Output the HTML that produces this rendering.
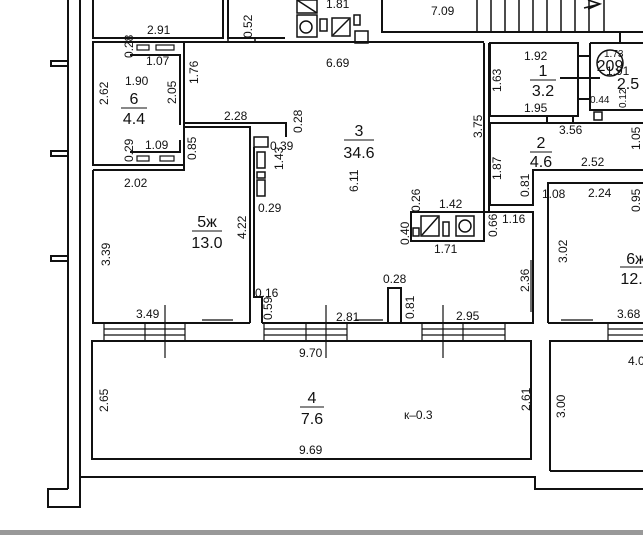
<!DOCTYPE html>
<html><head><meta charset="utf-8"><style>
html,body{margin:0;padding:0;background:#fff;}
svg{display:block;}
text{font-family:"Liberation Sans",sans-serif;fill:#111;}
.d{font-size:12px;}
.r{font-size:16px;}
</style></head><body>
<svg width="643" height="535" viewBox="0 0 643 535" xmlns="http://www.w3.org/2000/svg">
<g fill="none" stroke="#111" stroke-width="2">
<line x1="68" y1="0" x2="68" y2="489"/>
<line x1="80" y1="0" x2="80" y2="477"/>
<path d="M80 477 H535 V489 H643"/>
<path d="M68 489 H48 V507 H80 V477"/>
<path d="M68 61 H51 V66 H68"/>
<path d="M68 151 H51 V156 H68"/>
<path d="M68 256 H51 V261 H68"/>
<path d="M93 0 V38 H223 V0"/>
<path d="M228 0 V38 H285"/>
<path d="M382 0 V32 H643"/>
<line x1="620" y1="32" x2="620" y2="43"/>
<g stroke-width="1.5">
<line x1="477" y1="0" x2="477" y2="32"/><line x1="491" y1="0" x2="491" y2="32"/><line x1="505" y1="0" x2="505" y2="32"/><line x1="519" y1="0" x2="519" y2="32"/><line x1="533" y1="0" x2="533" y2="32"/><line x1="547" y1="0" x2="547" y2="32"/><line x1="561" y1="0" x2="561" y2="32"/><line x1="575" y1="0" x2="575" y2="32"/><line x1="589" y1="0" x2="589" y2="32"/><line x1="604" y1="0" x2="604" y2="32"/>
<path d="M584 8 L600 4 M588 0 L600 4 L588 9"/>
</g>
<g stroke-width="1.5">
<rect x="297" y="0" width="20" height="13"/><line x1="297" y1="0" x2="317" y2="13"/>
<rect x="297" y="15" width="20" height="22"/><circle cx="306" cy="27" r="6"/>
<rect x="320" y="19" width="7" height="12"/>
<rect x="332" y="18" width="18" height="18"/><line x1="333" y1="35" x2="349" y2="19"/>
<rect x="354" y="15" width="6" height="10"/>
<rect x="355" y="31" width="13" height="12"/>
<line x1="228" y1="0" x2="228" y2="42"/><line x1="255" y1="38" x2="255" y2="42"/>
</g>
<path d="M184 42 H484"/>
<rect x="93" y="42" width="91" height="123"/>
<path d="M130 55 H180 V125"/>
<path d="M130 152 H180 V140"/>
<g stroke-width="1.2">
<rect x="137" y="45" width="12" height="5"/><rect x="156" y="45" width="18" height="5"/>
<rect x="137" y="156" width="12" height="5"/><rect x="160" y="156" width="14" height="5"/>
</g>
<path d="M184 123 H286 V137"/>
<path d="M184 127 H250 V323"/>
<path d="M93 170 H184 V165"/>
<path d="M93 170 V323 H250"/>
<g stroke-width="1.5">
<rect x="254" y="137" width="14" height="10"/>
<rect x="257" y="152" width="8" height="16"/><rect x="257" y="172" width="8" height="6"/><rect x="257" y="180" width="8" height="16"/>
</g>
<path d="M254 147 V297 H262 V323"/>
<path d="M262 323 H533 V212 H484 V43"/>
<line x1="489" y1="43" x2="489" y2="212"/>
<rect x="388" y="288" width="13" height="35"/>
<rect x="411" y="212" width="73" height="29"/>
<g stroke-width="1.5">
<rect x="421" y="216" width="18" height="20"/><line x1="422" y1="235" x2="438" y2="217"/>
<rect x="443" y="222" width="6" height="14"/>
<rect x="456" y="216" width="18" height="20"/><circle cx="465" cy="226" r="6"/>
<rect x="413" y="228" width="6" height="8"/>
</g>
<rect x="490" y="43" width="88" height="73"/>
<line x1="578" y1="56" x2="590" y2="56"/><line x1="578" y1="99" x2="590" y2="99"/>
<line x1="560" y1="78" x2="600" y2="78"/>
<path d="M590 43 H643 M590 43 V110 H643"/>
<circle cx="610" cy="63" r="13" stroke-width="1.5"/>
<rect x="594" y="112" width="8" height="8" stroke-width="1.5"/>
<path d="M490 123 H643"/>
<path d="M490 123 V205 H533 V170 H643"/>
<line x1="547" y1="116" x2="547" y2="123"/><line x1="573" y1="116" x2="573" y2="123"/>
<path d="M548 323 V183 H643"/>
<path d="M548 323 H643"/>
<rect x="92" y="341" width="439" height="118"/>
<path d="M550 471 V341 H643 M550 471 H643"/>
<g stroke-width="1.2">
<rect x="104" y="323" width="81" height="18"/><line x1="104" y1="329" x2="185" y2="329"/><line x1="104" y1="335" x2="185" y2="335"/><line x1="145" y1="323" x2="145" y2="341"/>
<rect x="264" y="323" width="83" height="18"/><line x1="264" y1="329" x2="347" y2="329"/><line x1="264" y1="335" x2="347" y2="335"/><line x1="306" y1="323" x2="306" y2="341"/>
<rect x="422" y="323" width="83" height="18"/><line x1="422" y1="329" x2="505" y2="329"/><line x1="422" y1="335" x2="505" y2="335"/><line x1="463" y1="323" x2="463" y2="341"/>
<rect x="608" y="323" width="40" height="18"/><line x1="608" y1="329" x2="643" y2="329"/><line x1="608" y1="335" x2="643" y2="335"/>
<line x1="165" y1="305" x2="165" y2="358"/><line x1="326" y1="305" x2="326" y2="358"/><line x1="443" y1="305" x2="443" y2="358"/>
<line x1="202" y1="320" x2="233" y2="320"/><line x1="355" y1="320" x2="383" y2="320"/><line x1="531" y1="260" x2="531" y2="312"/><line x1="561" y1="320" x2="593" y2="320"/>
</g>
</g>
<rect x="0" y="530" width="643" height="5" fill="#999"/>
<g class="d">
<text x="147" y="34">2.91</text>
<text x="326" y="8">1.81</text>
<text x="431" y="15">7.09</text>
<text x="146" y="65">1.07</text><text x="125" y="85">1.90</text>
<text x="145" y="149">1.09</text>
<text x="124" y="187">2.02</text>
<text x="224" y="120">2.28</text>
<text x="270" y="150">0.39</text>
<text x="258" y="212">0.29</text>
<text x="326" y="67">6.69</text>
<text x="524" y="60">1.92</text><text x="524" y="112">1.95</text>
<text x="559" y="134">3.56</text>
<text x="581" y="166">2.52</text>
<text x="542" y="198">1.08</text>
<text x="588" y="197">2.24</text>
<text x="439" y="208">1.42</text>
<text x="434" y="253">1.71</text>
<text x="502" y="223">1.16</text>
<text x="383" y="283">0.28</text>
<text x="255" y="297">0.16</text>
<text x="136" y="318">3.49</text>
<text x="336" y="321">2.81</text>
<text x="456" y="320">2.95</text>
<text x="617" y="318">3.68</text>
<text x="299" y="357">9.70</text>
<text x="299" y="454">9.69</text>
<text x="628" y="365">4.0</text>
<text x="404" y="419">к–0.3</text>
<text x="604" y="57" font-size="10">1.73</text>
<text x="606" y="75">1.91</text>
<text x="590" y="103" font-size="10">0.44</text>
</g>
<g class="d">
<text transform="translate(252,38) rotate(-90)">0.52</text>
<text transform="translate(133,58) rotate(-90)">0.28</text>
<text transform="translate(108,105) rotate(-90)">2.62</text>
<text transform="translate(176,104) rotate(-90)">2.05</text>
<text transform="translate(198,84) rotate(-90)">1.76</text>
<text transform="translate(133,162) rotate(-90)">0.29</text>
<text transform="translate(196,160) rotate(-90)">0.85</text>
<text transform="translate(302,133) rotate(-90)">0.28</text>
<text transform="translate(283,170) rotate(-90)">1.43</text>
<text transform="translate(110,266) rotate(-90)">3.39</text>
<text transform="translate(246,239) rotate(-90)">4.22</text>
<text transform="translate(358,192) rotate(-90)">6.11</text>
<text transform="translate(482,138) rotate(-90)">3.75</text>
<text transform="translate(501,92) rotate(-90)">1.63</text>
<text transform="translate(501,180) rotate(-90)">1.87</text>
<text transform="translate(529,197) rotate(-90)">0.81</text>
<text transform="translate(409,245) rotate(-90)">0.40</text>
<text transform="translate(420,212) rotate(-90)">0.26</text>
<text transform="translate(497,237) rotate(-90)">0.66</text>
<text transform="translate(529,292) rotate(-90)">2.36</text>
<text transform="translate(567,263) rotate(-90)">3.02</text>
<text transform="translate(272,320) rotate(-90)">0.59</text>
<text transform="translate(414,319) rotate(-90)">0.81</text>
<text transform="translate(108,412) rotate(-90)">2.65</text>
<text transform="translate(530,411) rotate(-90)">2.61</text>
<text transform="translate(565,418) rotate(-90)">3.00</text>
<text transform="translate(640,150) rotate(-90)">1.05</text>
<text transform="translate(640,212) rotate(-90)">0.95</text>
<text transform="translate(626,108) rotate(-90)" font-size="10">0.12</text>
</g>
<g class="r" text-anchor="middle">
<text x="134" y="104">6</text><line x1="121" y1="108" x2="147" y2="108" stroke="#111"/><text x="134" y="124">4.4</text>
<text x="207" y="227">5ж</text><line x1="192" y1="231" x2="222" y2="231" stroke="#111"/><text x="207" y="248">13.0</text>
<text x="359" y="136">3</text><line x1="344" y1="140" x2="374" y2="140" stroke="#111"/><text x="359" y="158">34.6</text>
<text x="543" y="76">1</text><line x1="530" y1="80" x2="556" y2="80" stroke="#111"/><text x="543" y="96">3.2</text>
<text x="541" y="148">2</text><line x1="530" y1="152" x2="552" y2="152" stroke="#111"/><text x="541" y="167">4.6</text>
<text x="610" y="71">209</text>
<text x="628" y="89">2.5</text>
<text x="636" y="264">6ж</text><line x1="620" y1="267" x2="643" y2="267" stroke="#111"/><text x="636" y="284">12.2</text>
<text x="312" y="403">4</text><line x1="300" y1="407" x2="324" y2="407" stroke="#111"/><text x="312" y="424">7.6</text>
</g>
</svg>
</body></html>
